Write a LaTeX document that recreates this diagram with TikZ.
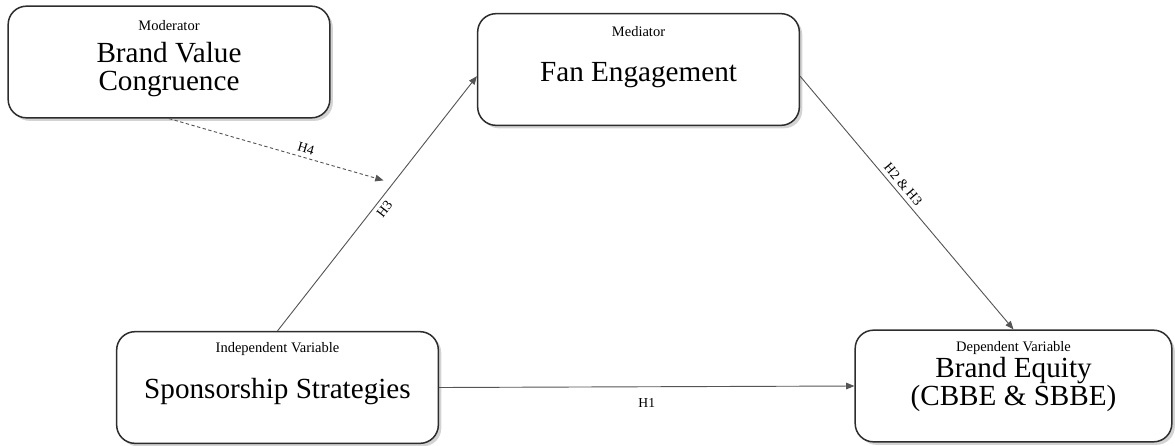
\documentclass[tikz,border=0pt]{standalone}
\usepackage{fontspec}
\setmainfont{Liberation Serif}
\usepackage{xcolor}
\usetikzlibrary{arrows.meta, positioning, calc, shadows}
\definecolor{ModelLine}{RGB}{45, 45, 45}
\definecolor{ModelArrow}{RGB}{85, 85, 85}
\tikzset{
  varbox/.style={draw=ModelLine, line width=0.9pt, rounded corners=11pt, fill=white,
    minimum width=193pt, minimum height=67pt, align=center,
    font=\fontsize{17.5}{17}\selectfont,
    drop shadow={shadow xshift=1.8pt, shadow yshift=-1.8pt, opacity=0.35}},
  vartag/.style={inner sep=0pt, font=\fontsize{8.7}{10}\selectfont},
  hyplink/.style={draw=ModelArrow, line width=0.55pt, -{Triangle[length=5pt,width=4pt]}},
  hyplabel/.style={font=\fontsize{8.2}{9}\selectfont, sloped, inner sep=2.5pt}
}
\begin{document}
\begin{tikzpicture}[x=0.6pt,y=0.6pt]
  \path[use as bounding box] (0,0) rectangle (1175,445);
  % variables
  \node[varbox, text height=37.8pt, text depth=3.8pt] (mod) at (169,383) {Brand Value\\Congruence};
  \node[varbox, text height=18.5pt, text depth=3.8pt] (med) at (638.5,375.5) {Fan Engagement};
  \node[varbox, text height=16.4pt, text depth=3.8pt] (indep) at (277.5,57.5) {Sponsorship Strategies};
  \node[varbox, minimum width=190pt, text height=27pt, text depth=3.8pt] (dep) at (1013.5,59) {Brand Equity\\(CBBE \& SBBE)};
  \node[vartag] (modtag) at ([yshift=-12.3pt]mod.north) {Moderator};
  \node[vartag] (medtag) at ([yshift=-11.4pt]med.north) {Mediator};
  \node[vartag] (indeptag) at ([yshift=-10.9pt]indep.north) {Independent Variable};
  \node[vartag] (deptag) at ([yshift=-11.4pt]dep.north) {Dependent Variable};
  % hypotheses
  \draw[hyplink] (indep.north) -- node[hyplabel, below, pos=0.5] (hthree) {H3} ([yshift=-4pt]med.west);
  \draw[hyplink] ([yshift=-4pt]med.east) -- node[hyplabel, above, pos=0.45] (htwo) {H2 \& H3} (dep.north);
  \draw[hyplink] (indep.east) -- node[hyplabel, below=4pt] (hone) {H1} (dep.west);
  \coordinate (modtarget) at ($(indep.north)!0.58!([yshift=-4pt]med.west)$);
  \draw[hyplink, dash pattern=on 2pt off 1.5pt, shorten >=6pt] (mod.south) -- node[hyplabel, above, pos=0.6] (hfour) {H4} (modtarget);
\end{tikzpicture}
\end{document}
